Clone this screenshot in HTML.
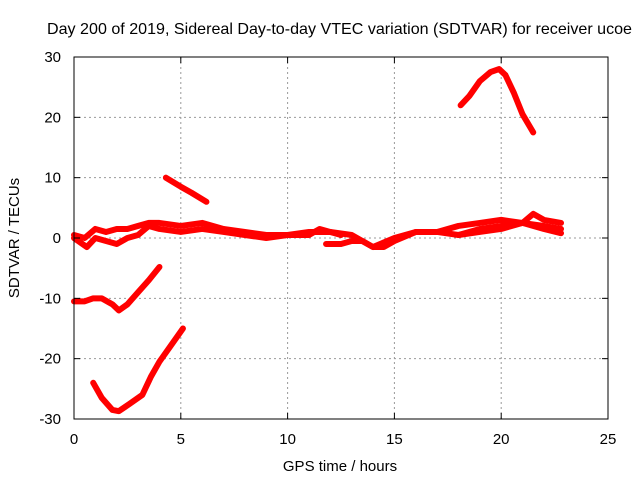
<!DOCTYPE html>
<html><head><meta charset="utf-8"><style>
body{margin:0;background:#fff;}
svg{display:block;font-family:"Liberation Sans",sans-serif;}
</style></head><body>
<svg id="chart" width="640" height="480">
<text x="47" y="34" font-size="16" textLength="585" lengthAdjust="spacingAndGlyphs">Day 200 of 2019, Sidereal Day-to-day VTEC variation (SDTVAR) for receiver ucoe</text>
<text x="340" y="471" text-anchor="middle" font-size="15">GPS time / hours</text>
<text transform="translate(19,238) rotate(-90)" text-anchor="middle" font-size="15">SDTVAR / TECUs</text>
<g id="grid"></g><g id="series"></g><g id="axes"></g>
</svg>
<script>
const xTicks=[0,5,10,15,20,25];
const yTicks=[-30,-20,-10,0,10,20,30];
const seriesArc=[[18.1,22],[18.5,23.5],[19,26],[19.5,27.5],[19.9,28],[20.2,27],[20.6,24],[21,20.5],[21.5,17.5]];
const seriesMid=[[4.3,10],[5,8.5],[5.5,7.5],[6.2,6]];
const seriesLow=[[0.9,-24],[1.3,-26.5],[1.8,-28.5],[2.1,-28.7],[2.6,-27.5],[3.2,-26],[3.6,-23],[4,-20.5],[4.5,-18],[5.1,-15]];
const seriesMinus10=[[0,-10.5],[0.5,-10.5],[0.9,-10],[1.3,-10],[1.8,-11],[2.1,-12],[2.5,-11],[3,-9],[3.5,-7],[4,-4.8]];
const seriesBand1=[[0,0.5],[0.5,0],[1,1.5],[1.5,1],[2,1.5],[2.5,1.5],[3,2],[3.5,2.5],[4,2.5],[5,2],[6,2.5],[7,1.5],[8,1],[9,0.5],[10,0.5],[11,1],[12,1],[13,0.5],[14,-1.5],[14.5,-1.5],[15,-0.5],[16,1],[17,1],[18,0.5],[19,1.5],[20,2],[21,2.5],[22,2],[22.8,1.5]];
const seriesBand2=[[0,0],[0.6,-1.5],[1,0],[1.5,-0.5],[2,-1],[2.5,0],[3,0.5],[3.5,2],[4,1.5],[5,1],[6,1.5],[7,1],[8,0.5],[9,0],[10,0.5],[11,0.5],[11.5,1.5],[12,1],[12.5,0.5]];
const seriesBand3=[[11.8,-1],[12.5,-1],[13,-0.5],[13.5,-0.5],[14,-1.5],[15,0],[15.5,0.5],[16,1],[17,1],[18,2],[19,2.5],[20,3],[21,2.5],[21.5,4],[22,3],[22.8,2.5]];
const seriesBand4=[[18,0.5],[19,1],[20,1.5],[21,2.5],[22,1.5],[22.8,0.8]];
const allSeries=[seriesArc,seriesMid,seriesLow,seriesMinus10,seriesBand1,seriesBand2,seriesBand3,seriesBand4];
const X0=74,X1=608,Y0=419,Y1=57;
const sx=v=>X0+(v-0)/25*(X1-X0);
const sy=v=>Y0-(v+30)/60*(Y0-Y1);
const NS="http://www.w3.org/2000/svg";
const grid=document.getElementById('grid'),axes=document.getElementById('axes'),ser=document.getElementById('series');
function mk(tag,attrs,parent){const e=document.createElementNS(NS,tag);for(const k in attrs)e.setAttribute(k,attrs[k]);parent.appendChild(e);return e;}
xTicks.forEach(t=>{
 if(t>0&&t<25){const g=mk('line',{x1:sx(t),x2:sx(t),y1:Y0,y2:Y1,stroke:'#999','stroke-dasharray':'2,3'},grid);
 
 }
 mk('line',{x1:sx(t),x2:sx(t),y1:Y0,y2:Y0-6,stroke:'#000'},axes);
 mk('line',{x1:sx(t),x2:sx(t),y1:Y1,y2:Y1+6,stroke:'#000'},axes);
 const l=mk('text',{x:sx(t),y:Y0+25,'text-anchor':'middle','font-size':15},axes);l.textContent=t;
 
 
});
yTicks.forEach(t=>{
 if(t>-30&&t<30){const g=mk('line',{x1:X0,x2:X1,y1:sy(t),y2:sy(t),stroke:'#999','stroke-dasharray':'2,3'},grid);
 
 }
 mk('line',{x1:X0,x2:X0+6,y1:sy(t),y2:sy(t),stroke:'#000'},axes);
 mk('line',{x1:X1,x2:X1-6,y1:sy(t),y2:sy(t),stroke:'#000'},axes);
 const l=mk('text',{x:X0-13,y:sy(t)+5,'text-anchor':'end','font-size':15},axes);l.textContent=t;
 
 
});
const b=mk('rect',{x:X0,y:Y1,width:X1-X0,height:Y0-Y1,fill:'none',stroke:'#000','stroke-width':1},axes);


allSeries.forEach(s=>{
 const p=mk('polyline',{points:s.map(d=>sx(d[0])+','+sy(d[1])).join(' '),fill:'none',stroke:'#f00','stroke-width':6,'stroke-linejoin':'round','stroke-linecap':'round'},ser);
 
 
});
</script>
</body></html>
